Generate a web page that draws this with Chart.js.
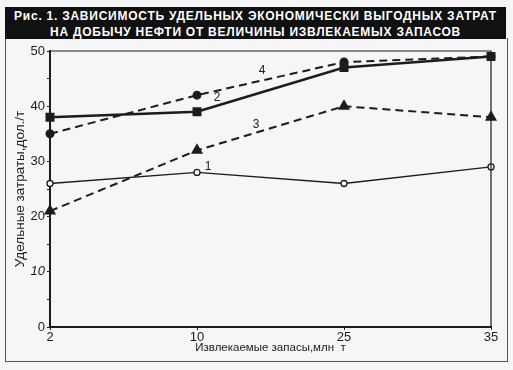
<!DOCTYPE html>
<html>
<head>
<meta charset="utf-8">
<script src="https://cdn.jsdelivr.net/npm/chart.js@4/dist/chart.umd.min.js"></script>
<style>
  html, body { margin: 0; padding: 0; background: #f6f6f8; }
  #wrap { position: relative; width: 513px; height: 370px; overflow: hidden; }
  #frame { position: absolute; left: 5px; top: 38px; width: 501px; height: 323px; border: 1px solid #555; border-top: none; }
  #title {
    position: absolute; left: 5px; top: 7px; width: 501px; height: 32px;
    background: #111; color: #fff; text-align: center;
    font: bold 12px "Liberation Sans", Arial, sans-serif; line-height: 16px;
    letter-spacing: 0.75px; padding-top: 1px; box-sizing: border-box;
  }
  canvas { position: absolute; left: 0; top: 0; }
</style>
</head>
<body>
<div id="wrap">
  <div id="frame"></div>
  <canvas id="chart" width="513" height="370"></canvas>
  <div id="title">Рис. 1. ЗАВИСИМОСТЬ УДЕЛЬНЫХ ЭКОНОМИЧЕСКИ ВЫГОДНЫХ ЗАТРАТ<br>НА ДОБЫЧУ НЕФТИ ОТ ВЕЛИЧИНЫ ИЗВЛЕКАЕМЫХ ЗАПАСОВ</div>
</div>
<script>
// reserves, mln t (categories)
const reserves = ['2', '10', '25', '35'];

// specific costs, $/t
const curve1 = [26, 28, 26, 29];
const curve2 = [38, 39, 47, 49];
const curve3 = [21, 32, 40, 38];
const curve4 = [35, 42, 48, 49];

const curveNames = ['1', '2', '3', '4'];

const INK = '#1c1c1c';

// number labels near each curve: dataset index, anchor point, pixel offset
const curveTags = [
    { ds: 0, at: 1, dx: 11, dy: -6 },
    { ds: 1, at: 1, dx: 20, dy: -14 },
    { ds: 2, at: 1, dx: 59, dy: -26 },
    { ds: 3, at: 1, dx: 65, dy: -24 }
];

const tagPlugin = {
    id: 'tags',
    afterDatasetsDraw(chart) {
        const ctx = chart.ctx;
        ctx.save();
        ctx.fillStyle = INK;
        ctx.font = '12px "Liberation Sans", Arial, sans-serif';
        ctx.textAlign = 'center';
        ctx.textBaseline = 'middle';
        curveTags.forEach(t => {
            const pt = chart.getDatasetMeta(t.ds).data[t.at];
            ctx.fillText(curveNames[t.ds], pt.x + t.dx, pt.y + t.dy);
        });
        // thin top and right sides of the plot box
        const a = chart.chartArea;
        ctx.strokeStyle = INK;
        ctx.lineWidth = 1.2;
        ctx.beginPath();
        ctx.moveTo(a.left, a.top);
        ctx.lineTo(a.right, a.top);
        ctx.lineTo(a.right, a.bottom);
        ctx.stroke();
        ctx.restore();
    }
};

new Chart(document.getElementById('chart'), {
    type: 'line',
    data: {
        labels: reserves,
        datasets: [
            {
                label: curveNames[0], data: curve1,
                borderColor: INK, borderWidth: 1.3,
                pointStyle: 'circle', pointRadius: 3,
                pointBackgroundColor: '#fff', pointBorderColor: INK, pointBorderWidth: 1.3
            },
            {
                label: curveNames[1], data: curve2,
                borderColor: INK, borderWidth: 2.6,
                pointStyle: 'rect', pointRadius: 4.5,
                pointBackgroundColor: INK, pointBorderColor: INK
            },
            {
                label: curveNames[2], data: curve3,
                borderColor: INK, borderWidth: 2, borderDash: [8, 5],
                pointStyle: 'triangle', pointRadius: 5,
                pointBackgroundColor: INK, pointBorderColor: INK
            },
            {
                label: curveNames[3], data: curve4,
                borderColor: INK, borderWidth: 2, borderDash: [8, 5],
                pointStyle: 'circle', pointRadius: 3.5,
                pointBackgroundColor: INK, pointBorderColor: INK
            }
        ]
    },
    options: {
        responsive: false,
        animation: false,
        layout: { padding: { left: 12, top: 51, right: 22, bottom: 15 } },
        plugins: {
            legend: { display: false },
            tooltip: { enabled: false }
        },
        scales: {
            x: {
                offset: false,
                afterFit: s => { s.height = 28; },
                grid: { drawOnChartArea: false, tickLength: 3, color: INK },
                border: { color: INK, width: 2 },
                ticks: {
                    color: INK, padding: 0, maxRotation: 0,
                    font: { size: 13, family: '"Liberation Sans", Arial, sans-serif' }
                },
                title: {
                    display: true, text: 'Извлекаемые запасы,млн  т', color: INK,
                    padding: { top: 0, bottom: 0 },
                    font: { size: 11.5, family: '"Liberation Sans", Arial, sans-serif' }
                }
            },
            y: {
                min: 0, max: 50,
                afterFit: s => { s.width = 38; },
                grid: { drawOnChartArea: false, tickLength: 3, color: INK },
                border: { color: INK, width: 2 },
                ticks: {
                    stepSize: 5, autoSkip: false, color: INK, padding: 2,
                    callback: v => (v % 10 === 0 ? v : ''),
                    font: c => ({
                        size: 13,
                        style: c.tick && c.tick.value === 10 ? 'italic' : 'normal',
                        family: '"Liberation Sans", Arial, sans-serif'
                    })
                },
                title: {
                    display: true, text: 'Удельные затраты,дол./т', color: INK,
                    padding: { top: 0, bottom: 0 },
                    font: { size: 13.5, family: '"Liberation Sans", Arial, sans-serif' }
                }
            }
        }
    },
    plugins: [tagPlugin]
});
</script>
</body>
</html>
